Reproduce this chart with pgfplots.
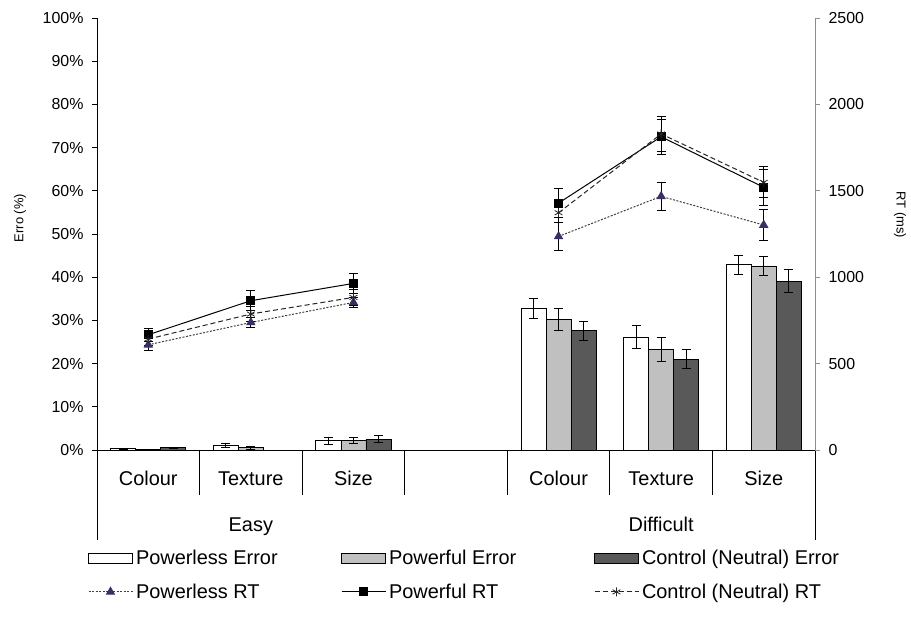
\documentclass[border=0pt]{standalone}
\usepackage{fontspec}
\setmainfont{Liberation Sans}
\usepackage{pgfplots}
\pgfplotsset{compat=1.18}
\usepackage{pgfplotstable}

\definecolor{barlight}{RGB}{192,192,192}
\definecolor{bardark}{RGB}{89,89,89}
\definecolor{tri}{RGB}{60,45,100}
\definecolor{axisgray}{RGB}{140,140,140}

\pgfplotstableread{
x pl ple pf pfe ct cte
0.5 0.3 0.1 0.1 0.05 0.5 0.2
1.5 1.1 0.5 0.5 0.3 0 0
2.5 2.2 0.8 2.2 0.7 2.5 0.85
4.5 32.8 2.3 30.2 2.5 27.6 2.2
5.5 26.1 2.7 23.3 2.8 21.0 2.2
6.5 42.9 2.2 42.6 2.3 39.1 2.7
}\errtab

\pgfplotstableread{
x pl ple pf pfe ct cte
0.5 609 35 667 36 642 35
1.5 738 30 864 58 787 45
2.5 854 30 964 60 883 45
3.5 nan 0 nan 0 nan 0
4.5 1236 79 1429 83 1373 58
5.5 1468 80 1813 100 1829 100
6.5 1302 92 1520 105 1549 90
}\rttab

\pgfplotsset{
  base/.style={scale only axis, width=718bp, height=432bp,
    xmin=0, xmax=7, at={(0,0)}, anchor=south west,
    xtick=\empty, clip=false, tick align=outside,
    major tick length=5bp,
    ticklabel style={font=\fontsize{16}{19}\selectfont},
    /pgf/number format/assume math mode=true,
    /pgf/number format/1000 sep={}},
  rtlegend/.style={legend image code/.code={%
    \draw[mark repeat=2, mark phase=2, ##1] plot coordinates {(0bp,0bp) (22bp,0bp) (44bp,0bp)};}},
  errb/.style={error bars/.cd, y dir=both, y explicit,
    error bar style={black, line width=0.9bp, solid},
    error mark options={black, line width=0.9bp, mark size=4.5bp, solid, rotate=90}},
}

\begin{document}
\begin{tikzpicture}
\useasboundingbox (-97bp,-187bp) rectangle (814bp,450bp);

\begin{axis}[base,
  ymin=0, ymax=100, ytick={0,10,...,100},
  yticklabel={\pgfmathprintnumber{\tick}\%},
  yticklabel style={xshift=-5bp},
  axis y line*=left, axis x line*=bottom,
  every outer x axis line/.append style={-},
  every outer y axis line/.append style={-},
  axis line style={line width=0.8bp, black},
  ytick style={line width=0.8bp, black},
]
\addplot[ybar, bar width=0.244, bar shift=0, fill=white, draw=black, line width=0.8bp, errb]
  table[x expr=\thisrow{x}-0.244, y=pl, y error=ple]{\errtab};
\addplot[ybar, bar width=0.244, bar shift=0, fill=barlight, draw=black, line width=0.8bp, errb]
  table[x=x, y=pf, y error=pfe]{\errtab};
\addplot[ybar, bar width=0.244, bar shift=0, fill=bardark, draw=black, line width=0.8bp, errb]
  table[x expr=\thisrow{x}+0.244, y=ct, y error=cte]{\errtab};

\pgfplotsinvokeforeach{1,2,3,4,5,6}{\draw[black, line width=0.8bp] (axis cs:#1,0) -- ++(0,-45bp);}
\draw[black, line width=0.8bp] (axis cs:0,0) -- ++(0,-90bp);
\draw[black, line width=0.8bp] (axis cs:7,0) -- ++(0,-90bp);

\node[font=\fontsize{20}{24}\selectfont, anchor=base] at ([yshift=-35bp]axis cs:0.5,0) {Colour};
\node[font=\fontsize{20}{24}\selectfont, anchor=base] at ([yshift=-35bp]axis cs:1.5,0) {Texture};
\node[font=\fontsize{20}{24}\selectfont, anchor=base] at ([yshift=-35bp]axis cs:2.5,0) {Size};
\node[font=\fontsize{20}{24}\selectfont, anchor=base] at ([yshift=-35bp]axis cs:4.5,0) {Colour};
\node[font=\fontsize{20}{24}\selectfont, anchor=base] at ([yshift=-35bp]axis cs:5.5,0) {Texture};
\node[font=\fontsize{20}{24}\selectfont, anchor=base] at ([yshift=-35bp]axis cs:6.5,0) {Size};
\node[font=\fontsize{20}{24}\selectfont, anchor=base] at ([yshift=-81bp]axis cs:1.5,0) {Easy};
\node[font=\fontsize{20}{24}\selectfont, anchor=base] at ([yshift=-81bp]axis cs:5.5,0) {Difficult};
\end{axis}

\begin{axis}[base,
  ymin=0, ymax=2500, ytick={0,500,...,2500},
  yticklabel style={xshift=5bp},
  axis y line*=right, axis x line=none,
  every outer y axis line/.append style={-},
  y axis line style={line width=0.8bp, axisgray},
  ytick style={line width=0.8bp, axisgray},
  unbounded coords=jump,
  legend columns=3, legend cell align=left,
  legend style={at={(-0.01253,-0.2315)}, anchor=north west, draw=none, fill=none,
    inner sep=0pt, outer sep=0pt, column sep=3bp, row sep=18bp,
    font=\fontsize{20}{24}\selectfont, nodes={inner sep=0pt}},
]
\addlegendimage{legend image code/.code={\draw[fill=white, draw=black, line width=0.8bp] (0bp,-5bp) rectangle (44bp,5bp);}}
\addlegendentry{\makebox[202bp][l]{\rule[-4bp]{0pt}{18bp}Powerless Error}}
\addlegendimage{legend image code/.code={\draw[fill=barlight, draw=black, line width=0.8bp] (0bp,-5bp) rectangle (44bp,5bp);}}
\addlegendentry{\makebox[202bp][l]{\rule[-4bp]{0pt}{18bp}Powerful Error}}
\addlegendimage{legend image code/.code={\draw[fill=bardark, draw=black, line width=0.8bp] (0bp,-5bp) rectangle (44bp,5bp);}}
\addlegendentry{\makebox[202bp][l]{\rule[-4bp]{0pt}{18bp}Control (Neutral) Error}}

\addplot[rtlegend, black!75, line width=1bp, dash pattern=on 2bp off 1.5bp,
  mark=triangle*, mark size=4.5bp, mark options={solid, fill=tri, draw=tri}, errb]
  table[x=x, y=pl, y error=ple]{\rttab};
\addlegendentry{\makebox[202bp][l]{\rule[-4bp]{0pt}{18bp}Powerless RT}}
\addplot[rtlegend, black, line width=1bp, solid,
  mark=square*, mark size=4bp, mark options={solid, fill=black}, errb]
  table[x=x, y=pf, y error=pfe]{\rttab};
\addlegendentry{\makebox[202bp][l]{\rule[-4bp]{0pt}{18bp}Powerful RT}}
\addplot[rtlegend, black!85, line width=1bp, dash pattern=on 5bp off 3bp,
  mark=asterisk, mark size=4.5bp, mark options={solid, line width=0.8bp}, errb]
  table[x=x, y=ct, y error=cte]{\rttab};
\addlegendentry{\makebox[202bp][l]{\rule[-4bp]{0pt}{18bp}Control (Neutral) RT}}
\end{axis}

\node[rotate=90, font=\fontsize{13}{15}\selectfont] at (-77bp,232bp) {Erro (\%)};
\node[rotate=-90, font=\fontsize{13}{15}\selectfont] at (803bp,235bp) {RT (ms)};
\end{tikzpicture}
\end{document}
